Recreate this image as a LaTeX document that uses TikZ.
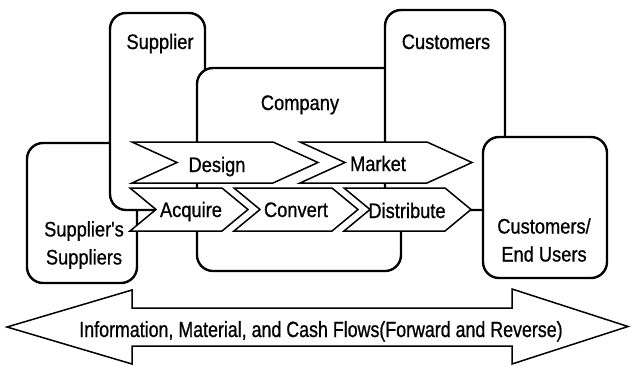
\documentclass[tikz,border=0pt]{standalone}
\usepackage{fontspec}
\setmainfont{Liberation Sans}
\newfontfamily\lblfont[FakeStretch=0.87,FakeBold=0.8]{Liberation Sans}
\newfontfamily\flowfont[FakeStretch=0.81,FakeBold=0.8]{Liberation Sans}
\begin{document}
\begin{tikzpicture}[x=1pt,y=-1pt,
  box/.style={draw, line width=2.4pt, rounded corners=16pt, fill=white, inner sep=0pt},
  chev/.style={draw, line width=1.5pt, fill=white, line join=miter},
  lbl/.style={font=\lblfont\fontsize{21}{28}\selectfont, inner sep=0pt, align=center},
  flowlbl/.style={font=\flowfont\fontsize{22}{25}\selectfont, inner sep=0pt},
  conn/.style={draw, line width=1.5pt}]
\useasboundingbox (0,0) rectangle (631,365);
% boxes, back to front
\node[box, minimum width=110pt, minimum height=140pt] (ss) at (82,213) {};
\node[box, minimum width=95pt, minimum height=197pt] (sup) at (157.5,111.5) {};
\node[box, minimum width=204pt, minimum height=203pt] (comp) at (299,169.5) {};
\node[box, minimum width=120pt, minimum height=200pt] (cust) at (445,110) {};
\node[box, minimum width=124pt, minimum height=141pt] (eu) at (545,207.5) {};
% box labels
\node[lbl, anchor=base] (supl) at (160,49) {Supplier};
\node[lbl, anchor=base] (compl) at (300,110) {Company};
\node[lbl, anchor=base] (custl) at (446,49) {Customers};
\node[lbl] (ssl) at (84,245) {Supplier's\\Suppliers};
\node[lbl] (eul) at (544,240) {Customers/\\End Users};
% chevrons row 1
\draw[chev] (132,142) -- (273,142) -- (318,162.5) -- (273,183) -- (132,183) -- (177,162.5) -- cycle;
\draw[chev] (300,142) -- (427,142) -- (472,162.5) -- (427,183) -- (300,183) -- (345,162.5) -- cycle;
% chevrons row 2
\draw[chev] (130,188) -- (222,188) -- (248,209.5) -- (222,231) -- (130,231) -- (156,209.5) -- cycle;
\draw[chev] (234,188) -- (332,188) -- (358,209.5) -- (332,231) -- (234,231) -- (260,209.5) -- cycle;
\draw[chev] (344,188) -- (445,188) -- (471,209.5) -- (445,231) -- (344,231) -- (370,209.5) -- cycle;
\coordinate (disttip) at (471,209.5);
\draw[conn] (disttip) -- (disttip -| eu.west);
% chevron labels
\node[lbl, anchor=base] (design) at (217,172) {Design};
\node[lbl, anchor=base] (market) at (378,171) {Market};
\node[lbl, anchor=base] (acquire) at (191,217) {Acquire};
\node[lbl, anchor=base] (convert) at (296,217) {Convert};
\node[lbl, anchor=base] (distribute) at (407,218) {Distribute};
% double arrow
\draw[chev] (7,327) -- (132,290) -- (132,308) -- (512,308) -- (512,289) -- (628,326.5) -- (512,364) -- (512,346) -- (132,346) -- (132,364) -- cycle;
\node[flowlbl, anchor=base] (flow) at (321,337) {Information, Material, and Cash Flows(Forward and Reverse)};
\end{tikzpicture}
\end{document}
